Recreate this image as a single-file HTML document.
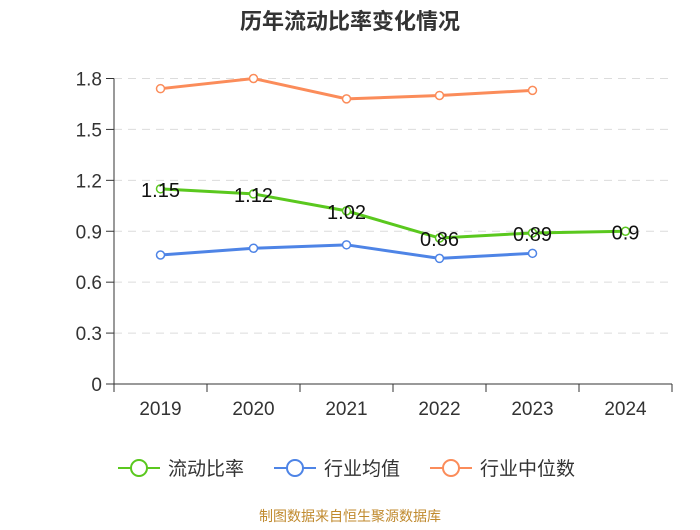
<!DOCTYPE html>
<html><head><meta charset="utf-8"><style>
body{margin:0;background:#fff;font-family:"Liberation Sans","Noto Sans CJK SC",sans-serif}
</style></head><body>
<svg width="700" height="525" xmlns="http://www.w3.org/2000/svg">
<text x="350" y="29" text-anchor="middle" font-size="22" font-weight="bold" fill="#333" font-family="Liberation Sans,Noto Sans CJK SC,sans-serif">历年流动比率变化情况</text>
<g id="grid"></g><g id="axes"></g><g id="series"></g>
<g id="legend"></g>
<text x="350" y="521" text-anchor="middle" font-size="14" fill="#c08a2e" font-family="Liberation Sans,Noto Sans CJK SC,sans-serif">制图数据来自恒生聚源数据库</text>
</svg>
<script>
const categories=["2019","2020","2021","2022","2023","2024"];
const yTicks=[0,0.3,0.6,0.9,1.2,1.5,1.8];
const yTickLabels=["0","0.3","0.6","0.9","1.2","1.5","1.8"];
const currentRatio=[1.15,1.12,1.02,0.86,0.89,0.9];
const industryAvg=[0.76,0.80,0.82,0.74,0.77];
const industryMedian=[1.74,1.80,1.68,1.70,1.73];
const seriesNames=["流动比率","行业均值","行业中位数"];
const NS="http://www.w3.org/2000/svg";
const L=114,R=672,T=78.5,B=384;
const bw=(R-L)/categories.length;
const xs=i=>L+bw*(i+0.5);
const ys=v=>B-(v/1.8)*(B-T);
function mk(tag,at,parent){const e=document.createElementNS(NS,tag);for(const k in at)e.setAttribute(k,at[k]);parent.appendChild(e);return e;}
const grid=document.getElementById('grid'),axes=document.getElementById('axes'),ser=document.getElementById('series'),leg=document.getElementById('legend');
yTicks.forEach((v,i)=>{
 if(v>0){const g=mk('line',{x1:L,x2:R,y1:ys(v),y2:ys(v),stroke:'#dcdcdc','stroke-dasharray':'8,6'},grid);
 
 }
 const t=mk('line',{x1:L-8,x2:L,y1:ys(v),y2:ys(v),stroke:'#333'},axes);
 
 
 const tx=mk('text',{x:L-12,y:ys(v)+7,'text-anchor':'end','font-size':19,fill:'#333'},axes);
 tx.textContent=yTickLabels[i];
 
 
});
const ya=mk('line',{x1:L,x2:L,y1:T,y2:B,stroke:'#333'},axes);


const xa=mk('line',{x1:L,x2:R,y1:B,y2:B,stroke:'#333'},axes);


for(let i=0;i<=categories.length;i++){const t=mk('line',{x1:L+bw*i,x2:L+bw*i,y1:B,y2:B+8,stroke:'#333'},axes);
 
 }
categories.forEach((c,i)=>{const t=mk('text',{x:xs(i),y:B+31,'text-anchor':'middle','font-size':19,fill:'#333'},axes);t.textContent=c;
 
 });
function draw(data,color,name,labels){
 const g=mk('g',{},ser);
 
 
 mk('polyline',{points:data.map((v,i)=>xs(i)+','+ys(v)).join(' '),fill:'none',stroke:color,'stroke-width':3},g);
 data.forEach((v,i)=>{const c=mk('circle',{cx:xs(i),cy:ys(v),r:4,fill:'#fff',stroke:color,'stroke-width':1.5},g);
  
  
  if(labels){const t=mk('text',{x:xs(i),y:ys(v)+8,'text-anchor':'middle','font-size':20,fill:'#111'},g);t.textContent=String(v);
  
  }
 });
}
draw(industryMedian,'#fb8c5a','industry-median-series',false);
draw(industryAvg,'#4e84e6','industry-average-series',false);
draw(currentRatio,'#5ac81e','current-ratio-series',true);
const lc=['#5ac81e','#4e84e6','#fb8c5a'],lx=[118,274,430];
seriesNames.forEach((n,i)=>{
 const g=mk('g',{},leg);
 
 
 mk('line',{x1:lx[i],x2:lx[i]+42,y1:468,y2:468,stroke:lc[i],'stroke-width':2},g);
 mk('circle',{cx:lx[i]+21,cy:468,r:8,fill:'#fff',stroke:lc[i],'stroke-width':2},g);
 const t=mk('text',{x:lx[i]+50,y:475,'font-size':19,fill:'#333'},g);t.textContent=n;
});
</script>
</body></html>
